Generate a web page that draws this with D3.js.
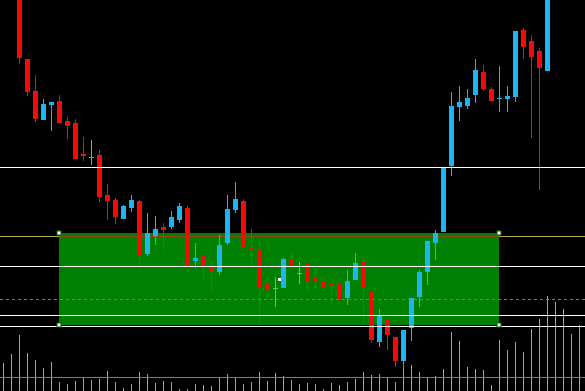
<!DOCTYPE html>
<html><head><meta charset="utf-8">
<script src="https://cdn.jsdelivr.net/npm/d3@7/dist/d3.min.js"></script>
<style>html,body{margin:0;padding:0;background:#000;overflow:hidden}</style>
</head><body><svg id="c" width="585" height="391"></svg>
<script>
// ---- data (price units; no axis visible in the reference) ----
const firstCandle = 2;
const opens  = [420,341,309,280,295,299,279,277,246,243,245,205,200,181,192,199,146,164,173,173,180,192,139,144,133,128,157,190,199,153,150,116,112,112,141,127,136,122,118,117,116,102,120,139,109,58,80,63,39,72,103,128,157,168,234,293,294,305,328,311,301,301,303,370,359,349,329];
const highs  = [425,341,325,301,298,305,283,281,263,260,250,216,202,195,205,200,187,184,177,189,197,194,157,144,133,165,205,218,201,171,160,123,123,142,148,138,136,133,123,117,118,130,147,145,109,91,80,63,70,102,130,159,170,232,308,314,311,341,335,313,334,314,369,372,365,352,425];
const lows   = [336,304,278,280,269,277,261,241,239,235,198,180,176,181,188,134,144,155,150,171,177,134,132,121,108,125,155,187,153,134,75,108,93,112,130,116,108,111,110,95,101,95,120,75,57,53,50,33,32,59,93,115,140,168,224,279,291,297,309,299,288,288,298,341,262,210,329];
const closes = [342,308,281,296,298,277,274,241,244,243,203,199,183,194,200,144,167,171,170,183,194,134,142,134,129,155,191,201,153,150,113,111,112,141,134,127,118,119,113,115,101,119,137,113,60,84,65,39,70,102,128,159,167,232,294,298,302,330,311,299,302,304,369,353,343,332,420];
const volumes = [28,37,56,38,31,23,29,9,7,10,13,11,12,20,9,3,7,19,17,8,10,9,2,2,7,6,5,13,17,14,7,9,19,10,18,15,11,7,8,7,2,8,6,9,12,19,16,17,13,9,30,26,19,14,15,22,59,50,24,22,21,6,51,41,49,39,62,72,95,89,82,57,66];
const volumeLevel = 14;
const whiteLevels = [233, 134, 85, 74];
const oliveLevel = 164;
const dashedLevel = 101;
const zoneBars = [7, 62];
const zonePrices = [167, 75];
const markerBars = [34.5];
const markerPrices = [121];

// ---- drawing ----
const W = 585, H = 391;
const svg = d3.select('#c');
const x = d3.scaleLinear().domain([0, 72]).range([3, 579]);
const y = d3.scaleLinear().domain([9, 400]).range([391, 0]);
const yv = d3.scaleLinear().domain([0, 100]).range([391, 291]);

const BULL = '#1cb4f2', BEAR = '#f50a0a', BEARWICK = '#e81010', DOJI = '#44d844';
const ZONE = '#008000', BROWN = '#9a4812', OLIVE = '#b0b04a';

svg.append('rect').attr('width', W).attr('height', H).attr('fill', '#000');

// volume histogram
svg.append('g').selectAll('line').data(volumes).join('line')
  .attr('x1', (d, i) => x(i) + 0.5).attr('x2', (d, i) => x(i) + 0.5)
  .attr('y1', H).attr('y2', d => yv(d))
  .attr('stroke', '#6cc686').attr('stroke-width', 1);

// zone rectangle
const zx0 = x(zoneBars[0]), zx1 = x(zoneBars[1]);
const zy0 = y(zonePrices[0]), zy1 = y(zonePrices[1]);
svg.append('rect').attr('x', zx0).attr('y', zy0)
  .attr('width', zx1 - zx0).attr('height', zy1 - zy0).attr('fill', ZONE);

svg.append('clipPath').attr('id', 'zoneClip').append('rect')
  .attr('x', zx0).attr('y', zy0).attr('width', zx1 - zx0).attr('height', zy1 - zy0);

// olive level
svg.append('line').attr('x1', 0).attr('x2', W)
  .attr('y1', y(oliveLevel) + 0.5).attr('y2', y(oliveLevel) + 0.5)
  .attr('stroke', OLIVE).attr('stroke-width', 1);
svg.append('line').attr('x1', 0).attr('x2', W)
  .attr('y1', y(oliveLevel) + 0.5).attr('y2', y(oliveLevel) + 0.5)
  .attr('stroke', BROWN).attr('stroke-width', 1).attr('clip-path', 'url(#zoneClip)');

// candles
const candles = opens.map((o, k) => ({ i: firstCandle + k, o, h: highs[k], l: lows[k], c: closes[k] }));
const kind = d => d.c > d.o ? 'bull' : d.c < d.o ? 'bear' : 'doji';
const gC = svg.append('g');
gC.selectAll('line.w').data(candles).join('line').attr('class', 'w')
  .attr('x1', d => x(d.i) + 0.5).attr('x2', d => x(d.i) + 0.5)
  .attr('y1', d => y(d.h)).attr('y2', d => y(d.l))
  .attr('stroke', d => kind(d) === 'bull' ? BULL : kind(d) === 'bear' ? BEARWICK : DOJI)
  .attr('stroke-width', 1);
// bear wicks inside zone look brown
gC.append('g').attr('clip-path', 'url(#zoneClip)')
  .selectAll('line').data(candles.filter(d => kind(d) === 'bear')).join('line')
  .attr('x1', d => x(d.i) + 0.5).attr('x2', d => x(d.i) + 0.5)
  .attr('y1', d => y(d.h)).attr('y2', d => y(d.l))
  .attr('stroke', BROWN).attr('stroke-width', 1);
gC.selectAll('rect.b').data(candles.filter(d => kind(d) !== 'doji')).join('rect').attr('class', 'b')
  .attr('x', d => x(d.i) - 2).attr('width', 5)
  .attr('y', d => y(Math.max(d.o, d.c)))
  .attr('height', d => Math.max(1, Math.abs(y(d.o) - y(d.c))))
  .attr('fill', d => kind(d) === 'bull' ? BULL : BEAR);
gC.selectAll('line.t').data(candles.filter(d => kind(d) === 'doji')).join('line').attr('class', 't')
  .attr('x1', d => x(d.i) - 2).attr('x2', d => x(d.i) + 3)
  .attr('y1', d => y(d.o) + 0.5).attr('y2', d => y(d.o) + 0.5)
  .attr('stroke', DOJI).attr('stroke-width', 1);

// horizontal levels
svg.append('g').selectAll('line').data(whiteLevels).join('line')
  .attr('x1', 0).attr('x2', W)
  .attr('y1', d => y(d) + 0.5).attr('y2', d => y(d) + 0.5)
  .attr('stroke', '#ffffff').attr('stroke-width', 1);
svg.append('line').attr('x1', 0).attr('x2', W)
  .attr('y1', y(dashedLevel) + 0.5).attr('y2', y(dashedLevel) + 0.5)
  .attr('stroke', '#7a7a7a').attr('stroke-width', 1).attr('stroke-dasharray', '3,3');
svg.append('line').attr('x1', 0).attr('x2', W)
  .attr('y1', yv(volumeLevel) + 0.5).attr('y2', yv(volumeLevel) + 0.5)
  .attr('stroke', '#3a8ec8').attr('stroke-width', 1);

// zone corner handles
const corners = [];
zoneBars.forEach(b => zonePrices.forEach(p => corners.push([b, p])));
svg.append('g').selectAll('rect').data(corners).join('rect')
  .attr('x', d => x(d[0]) - 2).attr('y', d => y(d[1]) - 2)
  .attr('width', 4).attr('height', 4)
  .attr('fill', '#ffffff').attr('stroke', '#0a6a0a').attr('stroke-width', 1);

// small marker
svg.append('g').selectAll('rect').data(markerBars).join('rect')
  .attr('x', (d, k) => x(d) - 1).attr('y', (d, k) => y(markerPrices[k]) - 1)
  .attr('width', 3).attr('height', 3).attr('fill', '#ffffff');
</script></body></html>
